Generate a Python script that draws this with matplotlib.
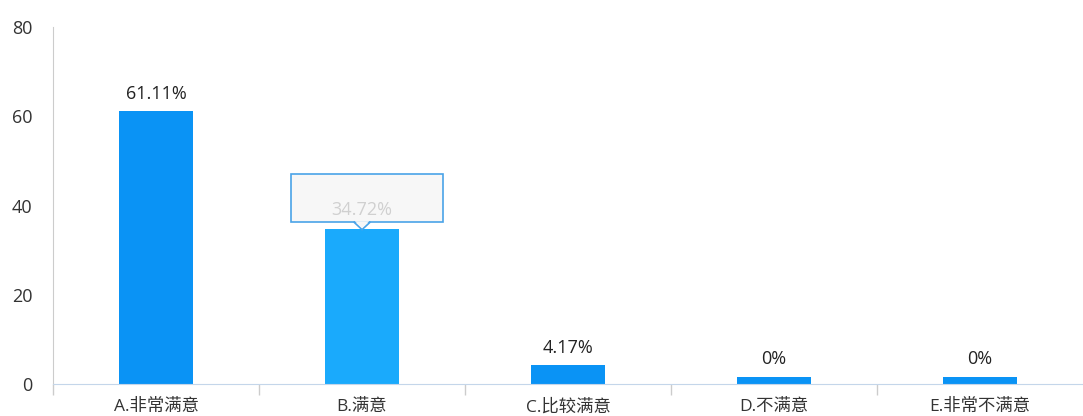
import matplotlib.pyplot as plt
from matplotlib.patches import Rectangle, Polygon

plt.rcParams['font.family'] = ['Open Sans', 'Noto Sans CJK SC', 'DejaVu Sans']

categories = ["A.非常满意", "B.满意", "C.比较满意", "D.不满意", "E.非常不满意"]
values = [61.11, 34.72, 4.17, 0, 0]
labels = ["61.11%", "34.72%", "4.17%", "0%", "0%"]
colors = ["#0a93f5", "#1aaafc", "#0a93f5", "#0a93f5", "#0a93f5"]
hover_idx = 1

fig = plt.figure(figsize=(10.83, 4.16), dpi=100)
ax = fig.add_axes([0.049, 0.077, 0.951, 0.858])

x = list(range(len(categories)))
# zero bars still show a thin stub like the original
shown = [max(v, 1.6) for v in values]
ax.bar(x, shown, width=0.36, color=colors, zorder=2)

for i, (v, h, lab) in enumerate(zip(values, shown, labels)):
    if i == hover_idx:
        continue
    ax.annotate(lab, (i, h), xytext=(0, 6), textcoords="offset points",
                ha="center", va="bottom", fontsize=13, color="#222222")

# tooltip over hovered bar
hx = hover_idx
ax.add_patch(Rectangle((hx - 0.345, 36.3), 0.74, 10.7, facecolor="#f7f7f7",
                       edgecolor="#4aa3e8", linewidth=1.2, zorder=4))
ax.add_patch(Polygon([(hx - 0.04, 36.3), (hx + 0.04, 36.3), (hx, 34.6)],
                     closed=True, facecolor="#f7f7f7", edgecolor="#4aa3e8",
                     linewidth=1.2, zorder=4))
ax.add_patch(Polygon([(hx - 0.035, 36.5), (hx + 0.035, 36.5), (hx, 34.9)],
                     closed=True, facecolor="#f7f7f7", edgecolor="none", zorder=5))
ax.text(hx, 38.9, labels[hx], ha="center", va="center", fontsize=13,
        color="#d0d0d0", zorder=6)

ax.set_xlim(-0.5, 4.5)
ax.set_ylim(0, 80)
ax.set_yticks([0, 20, 40, 60, 80])
ax.set_xticks(x)
ax.set_xticklabels(categories)
ax.set_xticks([-0.5, 0.5, 1.5, 2.5, 3.5], minor=True)
ax.tick_params(axis="x", which="major", length=0, pad=11, labelsize=12.5, labelcolor="#333333")
ax.tick_params(axis="x", which="minor", length=8, width=1, color="#cccccc")
ax.tick_params(axis="y", length=0, pad=15, labelsize=13, labelcolor="#333333")

for s in ["top", "right"]:
    ax.spines[s].set_visible(False)
ax.spines["left"].set_color("#cccccc")
ax.spines["bottom"].set_color("#c4d6ea")

fig.savefig("out.png", dpi=100)
